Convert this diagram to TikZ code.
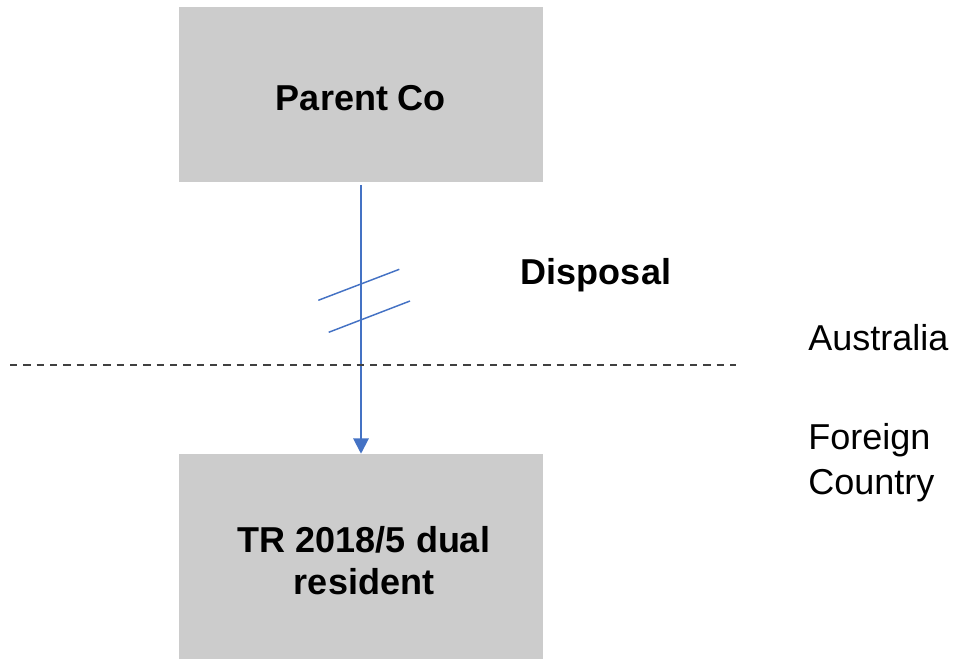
\documentclass[tikz,border=0pt]{standalone}
\usepackage{fontspec}
\setmainfont{Liberation Sans}
\usetikzlibrary{arrows.meta}
\definecolor{boxgray}{HTML}{CCCCCC}
\definecolor{linkblue}{HTML}{4472C4}
\definecolor{bordergray}{HTML}{404040}
\begin{document}
\begin{tikzpicture}[x=0.75pt,y=-0.75pt,
  entity/.style={fill=boxgray,draw=none,minimum width=273pt,inner sep=0pt},
  entitytext/.style={font=\fontsize{27}{31.5}\selectfont\bfseries,align=center},
  label/.style={font=\fontsize{27}{33.75}\selectfont,align=left,anchor=west,inner sep=0pt},
  link/.style={draw=linkblue,line width=1.5pt,-{Triangle[length=11.5pt,width=11.5pt]}},
  slash/.style={draw=linkblue,line width=1.1pt},
  border/.style={draw=bordergray,line width=1pt,dash pattern=on 5.5pt off 4.5pt}]
  \clip (0,0) rectangle (957,658);
  % entities
  \node[entity,minimum height=131pt] (parent) at (361,94.5) {};
  \node[entitytext] (parenttext) at (361,98) {Parent Co};
  \node[entity,minimum height=162pt] (dual) at (361,562) {};
  \node[entitytext] (dualtext) at (364,561) {TR 2018/5 dual\\resident};
  % ownership interest being disposed of
  \draw[link] ([yshift=-2pt]parent.south) -- (dual.north);
  \draw[slash] (318.3,300.3) -- (399.3,269.3);
  \draw[slash] (328.7,332.3) -- (410,301);
  \node[entitytext] (disposal) at (596,275) {Disposal};
  % jurisdiction boundary
  \coordinate (bl) at (10,365);
  \coordinate (br) at (736,365);
  \draw[border] (bl) -- (br);
  \node[label] (aus) at (808,338) {Australia};
  \node[label] (foreign) at (808,463) {Foreign\\Country};
\end{tikzpicture}
\end{document}
